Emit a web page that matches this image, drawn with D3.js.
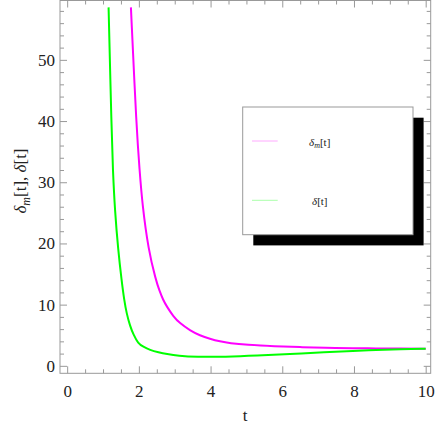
<!DOCTYPE html>
<html><head><meta charset="utf-8">
<script src="https://cdn.jsdelivr.net/npm/d3@7"></script>
<style>body{margin:0;background:#fff}svg{display:block}</style>
</head><body>
<svg id="c" width="436" height="436"></svg>
<script>
// Data
const tM = [1.778, 1.937, 2.021, 2.093, 2.266, 2.476, 2.568, 2.679, 2.774, 2.958, 3.145, 3.425, 3.704, 3.983, 4.262, 4.541, 5.0, 5.8, 6.5, 7.19, 8.0, 8.59, 9.3, 10.0];
const vM = [58.58, 38.47, 31.94, 26.56, 18.89, 13.99, 12.37, 10.73, 9.75, 8.1, 6.94, 5.8, 4.95, 4.4, 3.98, 3.7, 3.45, 3.2, 3.06, 2.95, 2.88, 2.85, 2.82, 2.79];
const tD = [1.155, 1.239, 1.275, 1.331, 1.423, 1.518, 1.591, 1.66, 1.75, 1.85, 1.98, 2.12, 2.308, 2.55, 2.774, 3.1, 3.6, 4.4, 5.3, 6.2, 7.19, 8.0, 8.6, 9.3, 10.0];
const vD = [58.58, 38.47, 31.94, 25.41, 18.89, 13.99, 10.73, 8.53, 6.58, 5.07, 3.67, 3.12, 2.58, 2.2, 1.92, 1.62, 1.45, 1.47, 1.66, 1.92, 2.25, 2.45, 2.58, 2.7, 2.79];
const xMajor = [0, 2, 4, 6, 8, 10];
const yMajor = [0, 10, 20, 30, 40, 50];
const xMinor = d3.range(0, 10.01, 0.5).filter(v => !xMajor.includes(v));
const yMinor = d3.range(0, 58.1, 2).filter(v => !yMajor.includes(v));
const legendLabels = ["m", ""];

const svg = d3.select("#c");
const L = 60, R = 430.7, T = 0.5, B = 373.3;
const x = d3.scaleLinear().domain([-0.2, 10.14]).range([L, R]);
const y = d3.scaleLinear().domain([-1.22, 59.7]).range([B, T]);
const serif = "'Liberation Serif', 'Times New Roman', 'DejaVu Serif', serif";

const tickCol = "#999";
function styleAxis(g) {
  g.attr("font-family", null).attr("font-size", null);
  g.select(".domain").remove();
  g.selectAll(".tick line").attr("stroke", tickCol);
  g.selectAll(".tick text").style("font-family", serif).style("font-size", "17px").attr("fill", "#222");
}
svg.append("g").attr("transform", `translate(0,${B})`)
  .call(d3.axisBottom(x).tickValues(xMajor).tickSize(-7).tickPadding(12).tickFormat(d3.format("d"))).call(styleAxis);
svg.append("g").attr("transform", `translate(0,${B})`)
  .call(d3.axisBottom(x).tickValues(xMinor).tickSize(-4).tickFormat("")).call(styleAxis);
svg.append("g").attr("transform", `translate(0,${T})`)
  .call(d3.axisTop(x).tickValues(xMajor).tickSize(-7).tickFormat("")).call(styleAxis);
svg.append("g").attr("transform", `translate(0,${T})`)
  .call(d3.axisTop(x).tickValues(xMinor).tickSize(-4).tickFormat("")).call(styleAxis);
svg.append("g").attr("transform", `translate(${L},0)`)
  .call(d3.axisLeft(y).tickValues(yMajor).tickSize(-7).tickPadding(5).tickFormat(d3.format("d"))).call(styleAxis);
svg.append("g").attr("transform", `translate(${L},0)`)
  .call(d3.axisLeft(y).tickValues(yMinor).tickSize(-4).tickFormat("")).call(styleAxis);
svg.append("g").attr("transform", `translate(${R},0)`)
  .call(d3.axisRight(y).tickValues(yMajor).tickSize(-7).tickFormat("")).call(styleAxis);
svg.append("g").attr("transform", `translate(${R},0)`)
  .call(d3.axisRight(y).tickValues(yMinor).tickSize(-4).tickFormat("")).call(styleAxis);

svg.append("rect").attr("x", L).attr("y", T).attr("width", R - L).attr("height", B - T)
  .attr("fill", "none").attr("stroke", tickCol).attr("stroke-width", 1);

const line = d3.line().x(d => x(d[0])).y(d => y(d[1])).curve(d3.curveBasis);
svg.append("path").datum(tM.map((t, i) => [t, vM[i]])).attr("d", line)
  .attr("fill", "none").attr("stroke", "#ff00ff").attr("stroke-width", 2);
svg.append("path").datum(tD.map((t, i) => [t, vD[i]])).attr("d", line)
  .attr("fill", "none").attr("stroke", "#00ff00").attr("stroke-width", 2);

svg.append("text").attr("x", 245).attr("y", 421).attr("text-anchor", "middle")
  .style("font-family", serif).style("font-size", "17px").attr("fill", "#222").text("t");
const yl = svg.append("text").attr("transform", "translate(26,181) rotate(-90)").attr("text-anchor", "middle")
  .style("font-family", serif).style("font-size", "17px").attr("fill", "#222");
yl.append("tspan").attr("font-style", "italic").text("δ");
yl.append("tspan").attr("font-style", "italic").style("font-size", "12px").attr("dy", 4).text("m");
yl.append("tspan").attr("dy", -4).text("[t], ");
yl.append("tspan").attr("font-style", "italic").text("δ");
yl.append("tspan").text("[t]");

const lx = 242.7, ly = 107, lw = 170.3, lh = 127.7;
svg.append("rect").attr("x", lx + 10.6).attr("y", ly + 10.7).attr("width", lw).attr("height", lh).attr("fill", "#000");
svg.append("rect").attr("x", lx).attr("y", ly).attr("width", lw).attr("height", lh)
  .attr("fill", "#fff").attr("stroke", "#999").attr("stroke-width", 1);
const legCols = ["#ffaaff", "#aaffaa"];
const legY = [141, 200.3];
legendLabels.forEach((sub, i) => {
  svg.append("line").attr("x1", 252).attr("x2", 277.7).attr("y1", legY[i]).attr("y2", legY[i])
    .attr("stroke", legCols[i]).attr("stroke-width", 1);
  const tx = svg.append("text").attr("x", i === 0 ? 309 : 312).attr("y", legY[i] + 5)
    .style("font-family", serif).style("font-size", "11px").attr("fill", "#222");
  tx.append("tspan").attr("font-style", "italic").text("δ");
  if (sub) {
    tx.append("tspan").attr("font-style", "italic").style("font-size", "8px").attr("dy", 2).text(sub);
    tx.append("tspan").attr("dy", -2).text("[t]");
  } else {
    tx.append("tspan").text("[t]");
  }
});
</script>
</body></html>
